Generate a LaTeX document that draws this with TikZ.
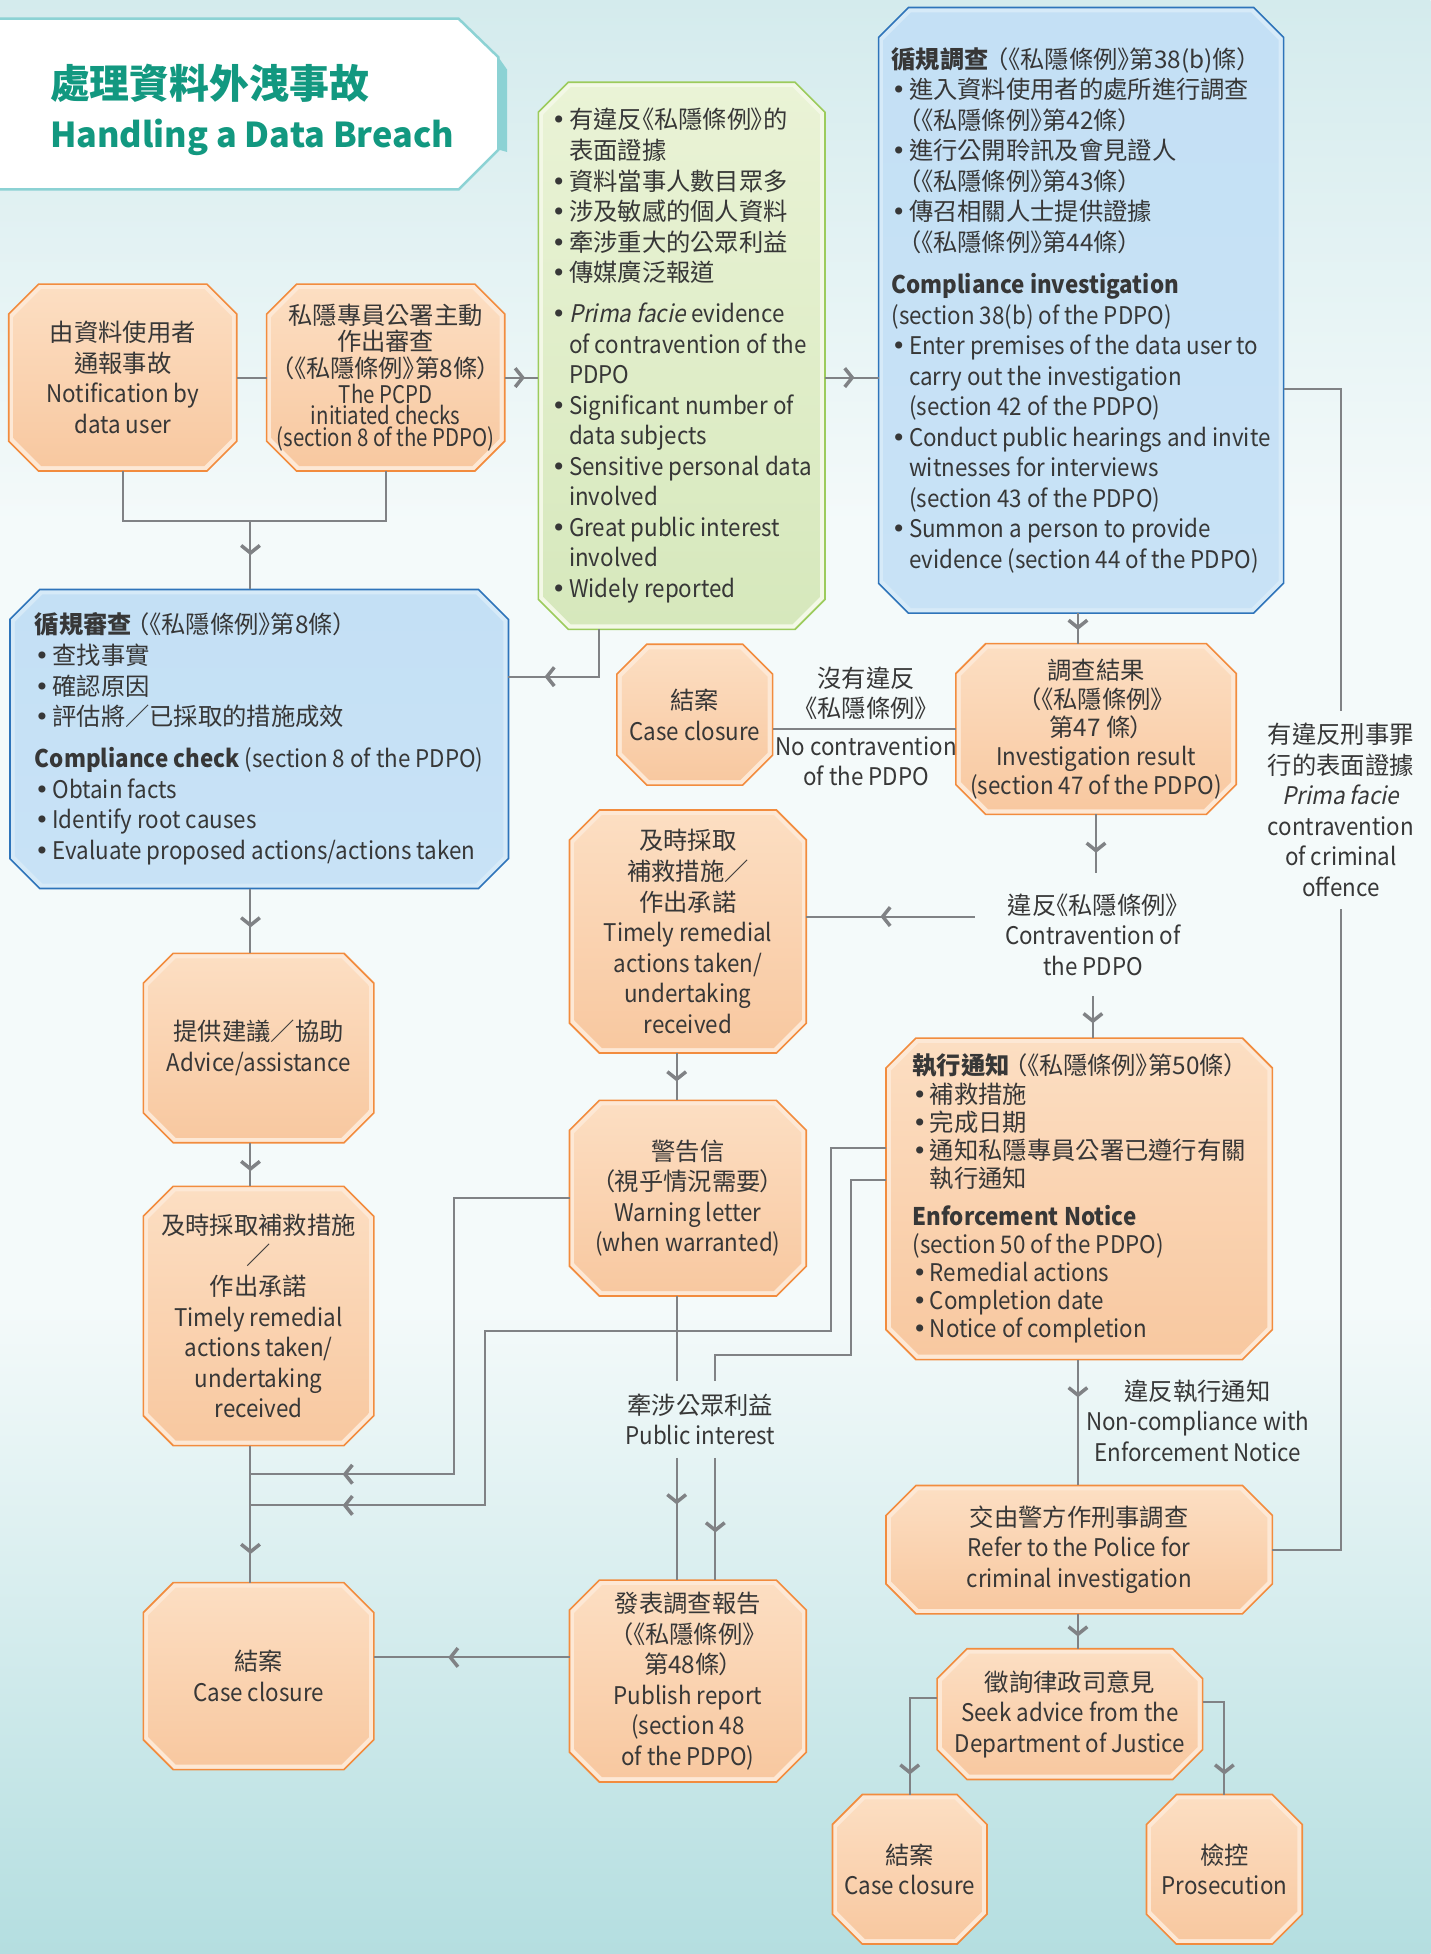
\documentclass[tikz,border=0pt]{standalone}
\usepackage{fontspec}
\setmainfont{Noto Sans CJK TC}[RawFeature={+palt}]
\newfontfamily\en{Noto Sans CJK TC}[FakeStretch=0.92]
\newfontfamily\condfont{Noto Sans CJK TC}[RawFeature={+palt}, FakeStretch=0.84]
\newfontfamily\slantfont{Noto Sans CJK TC}[FakeSlant=0.2, FakeStretch=0.92]
\newfontfamily\dotfont{DejaVu Sans}
\usetikzlibrary{arrows.meta, positioning, backgrounds, decorations.markings}
\definecolor{ink}{RGB}{55,55,55}
\definecolor{pcpdteal}{RGB}{18,152,128}
\definecolor{titleedge}{RGB}{140,210,212}
\definecolor{linegray}{RGB}{128,130,133}
\definecolor{oline}{RGB}{242,140,62}
\definecolor{oband}{RGB}{253,232,213}
\definecolor{otop}{RGB}{252,222,194}
\definecolor{obot}{RGB}{248,200,160}
\definecolor{bline}{RGB}{46,116,186}
\definecolor{bband}{RGB}{214,234,248}
\definecolor{btop}{RGB}{196,224,245}
\definecolor{bmid}{RGB}{163,200,234}
\definecolor{bbot}{RGB}{200,226,246}
\definecolor{gline}{RGB}{156,203,92}
\definecolor{gband}{RGB}{243,248,230}
\definecolor{gtop}{RGB}{234,243,214}
\definecolor{gbot}{RGB}{214,232,188}
\definecolor{bgtop}{RGB}{212,235,237}
\definecolor{bgmid}{RGB}{244,250,250}
\definecolor{bgbot}{RGB}{180,222,224}

\newcommand\bu{\makebox[14pt][l]{{\dotfont\char"2022}}}
\newcommand\ind{\hspace*{14pt}}
%% chamfered box drawn round a named node
\newcommand\octo[3]{%
  \draw[#2] ([yshift=-24]#1.north west) -- ([xshift=24]#1.north west)
    -- ([xshift=-24]#1.north east) -- ([yshift=-24]#1.north east)
    -- ([yshift=24]#1.south east) -- ([xshift=-24]#1.south east)
    -- ([xshift=24]#1.south west) -- ([yshift=24]#1.south west) -- cycle;
  \shade[#3] ([shift={(4,-26)}]#1.north west) -- ([shift={(26,-4)}]#1.north west)
    -- ([shift={(-26,-4)}]#1.north east) -- ([shift={(-4,-26)}]#1.north east)
    -- ([shift={(-4,26)}]#1.south east) -- ([shift={(-26,4)}]#1.south east)
    -- ([shift={(26,4)}]#1.south west) -- ([shift={(4,26)}]#1.south west) -- cycle;}

\tikzset{
  txt/.style={font=\fontsize{19.5}{24.5}\selectfont, text=ink},
  box/.style={txt, inner sep=0pt, outer sep=0pt, align=center},
  lbox/.style={box, align=left},
  note/.style={txt, align=center, inner sep=10pt},
  flow/.style={draw=linegray, line width=1.6pt},
  chev/.tip={Straight Barb[length=6pt, width=15pt, line width=2.8pt]},
  midarr/.style={postaction={decorate, decoration={markings,
      mark=at position #1 with {\arrow[linegray]{chev}}}}},
  oframe/.style={fill=oband, draw=oline, line width=1.3pt},
  ofill/.style={top color=otop, bottom color=obot},
  bframe/.style={fill=bband, draw=bline, line width=1.3pt},
  bfill/.style={top color=btop, middle color=bmid, bottom color=bbot},
  gframe/.style={fill=gband, draw=gline, line width=1.3pt},
  gfill/.style={top color=gtop, bottom color=gbot}
}

\begin{document}
\begin{tikzpicture}[x=1pt, y=1pt]
  \useasboundingbox (0,0) rectangle (1148,-1568);
  %% Background
  \begin{scope}[on background layer]
    \shade[top color=bgtop, bottom color=bgmid] (0,0) rectangle (1148,-420);
    \fill[bgmid] (0,-420) rectangle (1148,-1050);
    \shade[top color=bgmid, bottom color=bgbot] (0,-1050) rectangle (1148,-1568);
  \end{scope}

  %% Title
  \fill[titleedge] (400,-46) -- (407,-56) -- (407,-122) -- (400,-120) -- cycle;
  \draw[fill=white, draw=titleedge, line width=2pt]
    (-3,-15) -- (368,-15) -- (400,-46) -- (400,-120) -- (368,-152) -- (-3,-152);
  \node[anchor=west, align=left, inner sep=0pt, text=pcpdteal,
        font=\bfseries\fontsize{32}{39}\selectfont] (title) at (40,-88)
    {處理資料外洩事故\\\fontsize{27.5}{39}\selectfont Handling a Data Breach};

  %% Starting points
  \node[box, minimum width=183, minimum height=150] (A) at (98.5,-303)
    {由資料使用者\\通報事故\\\en Notification by\\\en data user};
  \node[box, minimum width=191, minimum height=150] (B) at (309.5,-303)
    {私隱專員公署主動\\[-3pt]作出審查\\[-3pt]（《私隱條例》第8條）\\[-4pt]
     \condfont The PCPD\\[-7pt]\condfont initiated checks\\[-7pt]\condfont (section 8 of the PDPO)};

  %% Criteria
  \node[lbox, minimum width=230, minimum height=439] (C) at (547,-285.5)
    {\bu 有違反《私隱條例》的\\
     \ind 表面證據\\
     \bu 資料當事人數目眾多\\
     \bu 涉及敏感的個人資料\\
     \bu 牽涉重大的公眾利益\\
     \bu 傳媒廣泛報道\\[8.5pt]
     \bu {\slantfont Prima facie} \en evidence\\
     \ind\en of contravention of the\\
     \ind\en PDPO\\
     \bu\en Significant number of\\
     \ind\en data subjects\\
     \bu\en Sensitive personal data\\
     \ind\en involved\\
     \bu\en Great public interest\\
     \ind\en involved\\
     \bu\en Widely reported};

  %% Compliance investigation
  \node[lbox, minimum width=325, minimum height=486] (D) at (867.5,-249)
    {\textbf{循規調查}\hspace{6pt}（《私隱條例》第38(b)條）\\
     \bu 進入資料使用者的處所進行調查\\
     \ind （《私隱條例》第42條）\\
     \bu 進行公開聆訊及會見證人\\
     \ind （《私隱條例》第43條）\\
     \bu 傳召相關人士提供證據\\
     \ind （《私隱條例》第44條）\\[9.5pt]
     \en\textbf{Compliance investigation}\\
     \en (section 38(b) of the PDPO)\\
     \bu\en Enter premises of the data user to\\
     \ind\en carry out the investigation\\
     \ind\en (section 42 of the PDPO)\\
     \bu\en Conduct public hearings and invite\\
     \ind\en witnesses for interviews\\
     \ind\en (section 43 of the PDPO)\\
     \bu\en Summon a person to provide\\
     \ind\en evidence (section 44 of the PDPO)};

  %% Compliance check
  \node[lbox, minimum width=400, minimum height=240] (E) at (208,-593)
    {\textbf{循規審查}\hspace{4pt}（《私隱條例》第8條）\\
     \bu 查找事實\\
     \bu 確認原因\\
     \bu 評估將／已採取的措施成效\\[9.5pt]
     \en\textbf{Compliance check} (section 8 of the PDPO)\\
     \bu\en Obtain facts\\
     \bu\en Identify root causes\\
     \bu\en Evaluate proposed actions/actions taken};

  %% Investigation result
  \node[box, minimum width=225, minimum height=137, font=\fontsize{19.5}{23}\selectfont] (F) at (879.5,-585)
    {調查結果\\（《私隱條例》\\第47 條）\\\en Investigation result\\\en (section 47 of the PDPO)};
  \node[box, minimum width=125, minimum height=113] (G) at (557.5,-573.5)
    {結案\\\en Case closure};
  \node[note, inner sep=0pt] (nocontra) at (695,-583)
    {沒有違反\\《私隱條例》\\[5.5pt]\en No contravention\\\en of the PDPO};
  \node[note, inner xsep=24pt, inner ysep=16pt] (contra) at (877,-750)
    {違反《私隱條例》\\\en Contravention of\\\en the PDPO};

  %% Outcomes, middle column
  \node[box, minimum width=190, minimum height=195] (H) at (552,-747.5)
    {及時採取\\補救措施／\\作出承諾\\\en Timely remedial\\\en actions taken/\\\en undertaking\\\en received};
  \node[box, minimum width=190, minimum height=157] (J) at (552,-961.5)
    {警告信\\（視乎情況需要）\\\en Warning letter\\\en (when warranted)};
  \node[note] (pubint) at (562,-1139) {牽涉公眾利益\\\en Public interest};
  \node[box, minimum width=190, minimum height=162] (R) at (552,-1349)
    {發表調查報告\\（《私隱條例》\\第48條）\\\en Publish report\\\en (section 48\\\en of the PDPO)};

  %% Enforcement notice and referral
  \node[lbox, minimum width=310, minimum height=258, font=\fontsize{19.5}{22.5}\selectfont] (I) at (866,-962)
    {\textbf{執行通知}\hspace{4pt}（《私隱條例》第50條）\\
     \bu 補救措施\\
     \bu 完成日期\\
     \bu 通知私隱專員公署已遵行有關\\
     \ind 執行通知\\[8.5pt]
     \en\textbf{Enforcement Notice}\\
     \en (section 50 of the PDPO)\\
     \bu\en Remedial actions\\
     \bu\en Completion date\\
     \bu\en Notice of completion};
  \node[note, inner sep=0pt] (noncomp) at (961,-1140)
    {違反執行通知\\\en Non-compliance with\\\en Enforcement Notice};
  \node[box, minimum width=310, minimum height=103] (K) at (866,-1243.5)
    {交由警方作刑事調查\\\en Refer to the Police for\\\en criminal investigation};
  \node[box, minimum width=213, minimum height=105] (L) at (858.5,-1375.5)
    {徵詢律政司意見\\\en Seek advice from the\\\en Department of Justice};
  \node[box, minimum width=124, minimum height=120] (M) at (730,-1500)
    {結案\\\en Case closure};
  \node[box, minimum width=125, minimum height=120] (N) at (982.5,-1500)
    {檢控\\\en Prosecution};
  \node[note] (crim) at (1076,-650)
    {有違反刑事罪\\行的表面證據\\{\slantfont Prima facie}\\\en contravention\\\en of criminal\\\en offence};

  %% Outcomes, left column
  \node[box, minimum width=185, minimum height=152] (O) at (207.5,-841)
    {提供建議／協助\\\en Advice/assistance};
  \node[box, minimum width=185, minimum height=208] (P) at (207.5,-1056)
    {及時採取補救措施\\／\\作出承諾\\\en Timely remedial\\\en actions taken/\\\en undertaking\\\en received};
  \node[box, minimum width=185, minimum height=150] (Q) at (207.5,-1345)
    {結案\\\en Case closure};

  %% Box frames
  \begin{scope}[on background layer]
    \foreach \n in {A,B,F,G,H,I,J,K,L,M,N,O,P,Q,R}
      {\octo{\n}{oframe}{ofill}}
    \octo{C}{gframe}{gfill}
    \octo{D}{bframe}{bfill}
    \octo{E}{bframe}{bfill}
  \end{scope}

  %% Connectors
  \coordinate (colx) at (201,0);
  \coordinate (colm) at (543,0);
  \coordinate (colr) at (865,0);
  \coordinate (ab) at (201,-418);
  \coordinate (ce) at (481,-543);
  \coordinate (joinA) at (201,-1183);
  \coordinate (joinB) at (201,-1208);

  \draw[flow] (A.east) -- (B.west);
  \draw[flow] (A.south) |- (ab) -| (B.south);
  \draw[flow, midarr=0.5] (ab) -- (colx |- E.north);
  \draw[flow, midarr=0.6] (B.east) -- (B.east -| C.west);
  \draw[flow, midarr=0.55] (C.east |- B.east) -- (D.west |- B.east);
  \draw[flow, midarr=-29pt] (ce |- C.south) |- (E.east |- ce);
  \draw[flow, midarr=0.55] (colr |- D.south) -- (colr |- F.north);
  \draw[flow] (F.west) -- (F.west -| G.east);
  \draw[flow, midarr=0.65] (F.south) -- (F.south |- contra.north);
  \draw[flow, midarr=0.56] (contra.west |- 0,-735.5) -- (H.east |- 0,-735.5);
  \draw[flow, midarr=0.65] (contra.south) -- (contra.south |- I.north);
  \draw[flow, midarr=0.6] (colm |- H.south) -- (colm |- J.north);
  \draw[flow, midarr=0.3] (colr |- I.south) -- (colr |- K.north);
  \draw[flow, midarr=0.65] (colr |- K.south) -- (colr |- L.north);
  \draw[flow, midarr=-16pt] ([yshift=13]L.west) -| (M.north);
  \draw[flow, midarr=-16pt] ([yshift=9.5]L.east) -| (N.north);
  \draw[flow] ([yshift=-63]D.east) -| (crim.north);
  \draw[flow] (crim.south) |- (K.east);

  \draw[flow, midarr=0.6] (colx |- E.south) -- (colx |- O.north);
  \draw[flow, midarr=0.65] (colx |- O.south) -- (colx |- P.north);
  \draw[flow, midarr=-23pt] (colx |- P.south) -- (colx |- Q.north);
  \draw[flow, midarr=-74pt] (J.west) -| (364,-1183) -- (joinA);
  \draw[flow, midarr=-74pt] ([yshift=41]I.west) -| (667,-1068) -| (389,-1208) -- (joinB);
  \draw[flow] ([yshift=15]I.west) -| (683,-1087) -| ([xshift=12]pubint.north);
  \draw[flow] (colm |- J.south) -- (colm |- pubint.north);
  \draw[flow, midarr=0.38] (colm |- pubint.south) -- (colm |- R.north);
  \draw[flow, midarr=0.61] ([xshift=12]pubint.south) -- ([xshift=12]pubint.south |- R.north);
  \draw[flow, midarr=0.62] (R.west |- 0,-1330) -- (Q.east |- 0,-1330);
\end{tikzpicture}
\end{document}
